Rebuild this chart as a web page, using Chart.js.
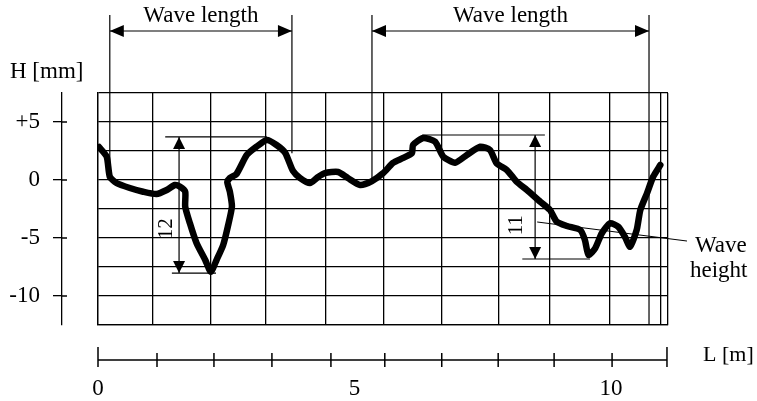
<!DOCTYPE html>
<html>
<head>
<meta charset="utf-8">
<script src="https://cdn.jsdelivr.net/npm/chart.js@4/dist/chart.umd.min.js"></script>
<style>
  html, body { margin: 0; padding: 0; background: #fff; }
  #box { width: 757px; height: 401px; position: relative; }
</style>
</head>
<body>
<div id="box"><canvas id="profile"></canvas></div>
<script>
// measured profile, L in metres, H in millimetres
const distance = [0.02, 0.17, 0.23, 0.36, 0.62, 0.88, 1.14, 1.34, 1.50, 1.60, 1.70, 1.70, 1.79, 1.92, 2.09, 2.20,
  2.31, 2.44, 2.53, 2.61, 2.57, 2.52, 2.57, 2.70, 2.90, 3.09, 3.29, 3.48, 3.65, 3.80, 3.94, 4.13, 4.29, 4.42,
  4.68, 4.87, 5.11, 5.34, 5.56, 5.75, 5.95, 6.12, 6.14, 6.34, 6.57, 6.73, 6.96, 7.19, 7.45, 7.64, 7.77, 7.97,
  8.16, 8.36, 8.62, 8.81, 8.94, 9.14, 9.40, 9.49, 9.56, 9.69, 9.82, 9.98, 10.14, 10.27, 10.37, 10.50, 10.57,
  10.70, 10.82, 10.96];
const height = [2.84, 2.01, 0.28, -0.26, -0.69, -1.01, -1.21, -0.86, -0.43, -0.58, -1.01, -2.30, -3.71, -5.43,
  -6.90, -7.91, -6.90, -5.60, -4.03, -2.30, -1.01, -0.17, 0.17, 0.52, 2.16, 2.87, 3.45, 3.02, 2.33, 0.78, 0.17,
  -0.26, 0.26, 0.60, 0.69, 0.17, -0.43, -0.09, 0.60, 1.47, 1.90, 2.33, 3.02, 3.62, 3.30, 2.01, 1.49, 2.16, 2.87,
  2.59, 1.44, 0.86, -0.15, -0.86, -1.87, -2.59, -3.59, -3.97, -4.31, -5.17, -6.47, -5.89, -4.59, -3.73, -4.03,
  -4.89, -5.75, -4.31, -2.59, -1.15, 0.28, 1.29];

const gridX = [0, 1.07, 2.20, 3.27, 4.44, 5.56, 6.69, 7.80, 8.81, 9.98, 10.97, 11.11];
const gridY = [7.5, 5, 2.5, 0, -2.5, -5, -7.5, -10, -12.5];
const hTicks = [5, 0, -5, -10];
const hTickLabels = ['+5', '0', '-5', '-10'];
const lTicks = [0, 5, 10];
const lTickMarks = [0, 1.15, 2.26, 3.39, 4.54, 5.59, 6.70, 7.80, 8.89, 10.02, 11.09];

// annotations
const waveLengthFrom = [0.23, 5.34];
const waveLengthTo = [3.78, 10.74];
const waveLengthLineEnds = [[0.6, 2.3], [-0.1, -12.5]];
const waveHeightX = [1.58, 8.52];
const waveHeightTop = [3.71, 3.88];
const waveHeightBottom = [-8.02, -6.81];
const waveHeightTopSpan = [[1.31, 3.29], [6.32, 8.71]];
const waveHeightBottomSpan = [[1.44, 2.30], [8.27, 9.59]];
const waveHeightLabels = ['12', '11'];
const waveHeightLabelX = [1.33, 8.15];
const waveHeightLabelY = [-4.2, -3.9];
const leaderFrom = [8.56, -3.62];
const leaderTo = [11.48, -5.26];

const serif = 'Liberation Serif';
Chart.defaults.font.family = serif;
Chart.defaults.color = '#000';

function arrowHead(g, x, y, dir, len, half) {
  g.beginPath();
  if (dir === 'left') { g.moveTo(x, y); g.lineTo(x + len, y - half); g.lineTo(x + len, y + half); }
  if (dir === 'right') { g.moveTo(x, y); g.lineTo(x - len, y - half); g.lineTo(x - len, y + half); }
  if (dir === 'up') { g.moveTo(x, y); g.lineTo(x - half, y + len); g.lineTo(x + half, y + len); }
  if (dir === 'down') { g.moveTo(x, y); g.lineTo(x - half, y - len); g.lineTo(x + half, y - len); }
  g.closePath();
  g.fill();
}

const annotate = {
  id: 'annotate',
  afterDraw(chart) {
    const g = chart.ctx;
    const { x, y, xAxis, yAxis } = chart.scales;
    g.save();
    g.strokeStyle = '#000';
    g.fillStyle = '#000';
    g.lineWidth = 1.2;

    // wave length markers
    waveLengthFrom.forEach((from, i) => {
      const x1 = x.getPixelForValue(from), x2 = x.getPixelForValue(waveLengthTo[i]);
      g.beginPath();
      g.moveTo(x1, 15); g.lineTo(x1, y.getPixelForValue(waveLengthLineEnds[i][0]));
      g.moveTo(x2, 15); g.lineTo(x2, y.getPixelForValue(waveLengthLineEnds[i][1]));
      g.moveTo(x1, 31); g.lineTo(x2, 31);
      g.stroke();
      arrowHead(g, x1, 31, 'left', 14, 6);
      arrowHead(g, x2, 31, 'right', 14, 6);
      g.font = '23px ' + serif;
      g.textAlign = 'center';
      g.textBaseline = 'middle';
      g.fillText('Wave length', (x1 + x2) / 2, 16);
    });

    // wave height markers
    waveHeightX.forEach((hx, i) => {
      const px = x.getPixelForValue(hx);
      const top = y.getPixelForValue(waveHeightTop[i]), bot = y.getPixelForValue(waveHeightBottom[i]);
      g.beginPath();
      g.moveTo(x.getPixelForValue(waveHeightTopSpan[i][0]), top);
      g.lineTo(x.getPixelForValue(waveHeightTopSpan[i][1]), top);
      g.moveTo(x.getPixelForValue(waveHeightBottomSpan[i][0]), bot);
      g.lineTo(x.getPixelForValue(waveHeightBottomSpan[i][1]), bot);
      g.moveTo(px, top); g.lineTo(px, bot);
      g.stroke();
      arrowHead(g, px, top, 'up', 12, 6);
      arrowHead(g, px, bot, 'down', 12, 6);
      g.save();
      g.translate(x.getPixelForValue(waveHeightLabelX[i]), y.getPixelForValue(waveHeightLabelY[i]));
      g.rotate(-Math.PI / 2);
      g.font = '21px ' + serif;
      g.textAlign = 'center';
      g.textBaseline = 'middle';
      g.fillText(waveHeightLabels[i], 0, 0);
      g.restore();
    });

    // leader to "Wave height"
    const lx = x.getPixelForValue(leaderTo[0]), ly = y.getPixelForValue(leaderTo[1]);
    g.lineWidth = 1;
    g.beginPath();
    g.moveTo(x.getPixelForValue(leaderFrom[0]), y.getPixelForValue(leaderFrom[1]));
    g.lineTo(lx, ly);
    g.stroke();
    g.font = '23px ' + serif;
    g.textAlign = 'left';
    g.textBaseline = 'middle';
    g.fillText('Wave', lx + 8, ly + 5);
    g.fillText('height', lx + 3, ly + 30);

    // left axis stubs and title
    g.lineWidth = 1.3;
    g.beginPath();
    hTicks.forEach((v) => {
      const py = yAxis.getPixelForValue(v);
      g.moveTo(yAxis.right, py); g.lineTo(yAxis.right + 5, py);
    });
    g.stroke();
    g.textAlign = 'left';
    g.fillText('H [mm]', 10, 72);

    // bottom axis line and ticks
    const by = xAxis.top;
    g.lineWidth = 1.5;
    g.beginPath();
    g.moveTo(xAxis.getPixelForValue(lTickMarks[0]), by);
    g.lineTo(xAxis.getPixelForValue(lTickMarks[lTickMarks.length - 1]), by);
    lTickMarks.forEach((v, i) => {
      const px = xAxis.getPixelForValue(v);
      const end = i === 0 || i === lTickMarks.length - 1;
      g.moveTo(px, by - (end ? 13 : 7)); g.lineTo(px, by + 7);
    });
    g.stroke();
    g.font = '22px ' + serif;
    g.fillText('L [m]', 703, by - 5);
    g.restore();
  }
};

new Chart(document.getElementById('profile'), {
  type: 'scatter',
  data: {
    datasets: [{
      data: distance.map((d, i) => ({ x: d, y: height[i] })),
      showLine: true,
      borderColor: '#000',
      borderWidth: 6.5,
      borderJoinStyle: 'round',
      borderCapStyle: 'round',
      pointRadius: 0,
      tension: 0.2,
      xAxisID: 'x',
      yAxisID: 'y'
    }]
  },
  options: {
    responsive: true,
    maintainAspectRatio: false,
    animation: false,
    events: [],
    layout: { padding: { top: 93, right: 89, left: 0, bottom: 0 } },
    plugins: { legend: { display: false }, tooltip: { enabled: false } },
    scales: {
      x: {
        type: 'linear', position: 'bottom', min: 0, max: 11.11, weight: 0,
        afterBuildTicks: (s) => { s.ticks = gridX.map((v) => ({ value: v })); },
        afterFit: (s) => { s.height = 35; },
        ticks: { display: false },
        grid: { color: '#000', lineWidth: 1.3, drawTicks: false },
        border: { display: true, color: '#000', width: 1.3 }
      },
      xAxis: {
        type: 'linear', position: 'bottom', min: 0, max: 11.11, weight: 1,
        afterBuildTicks: (s) => { s.ticks = lTicks.map((v) => ({ value: v })); },
        afterFit: (s) => { s.height = 41; },
        ticks: { padding: 7, font: { size: 23 }, maxRotation: 0 },
        grid: { display: false },
        border: { display: false }
      },
      y: {
        type: 'linear', position: 'left', min: -12.5, max: 7.5, weight: 0,
        afterBuildTicks: (s) => { s.ticks = gridY.map((v) => ({ value: v })); },
        afterFit: (s) => { s.width = 36; },
        ticks: { display: false },
        grid: { color: '#000', lineWidth: 1.3, drawTicks: false },
        border: { display: true, color: '#000', width: 1.3 }
      },
      yAxis: {
        type: 'linear', position: 'left', min: -12.5, max: 7.5, weight: 1,
        afterBuildTicks: (s) => { s.ticks = hTicks.map((v) => ({ value: v })); },
        afterFit: (s) => { s.width = 62; },
        ticks: { padding: 13, font: { size: 23 }, callback: (v) => hTickLabels[hTicks.indexOf(v)] },
        grid: { drawOnChartArea: false, drawTicks: true, tickLength: 9, color: '#000', lineWidth: 1.3 },
        border: { display: true, color: '#000', width: 1.3 }
      }
    }
  },
  plugins: [annotate]
});
</script>
</body>
</html>
